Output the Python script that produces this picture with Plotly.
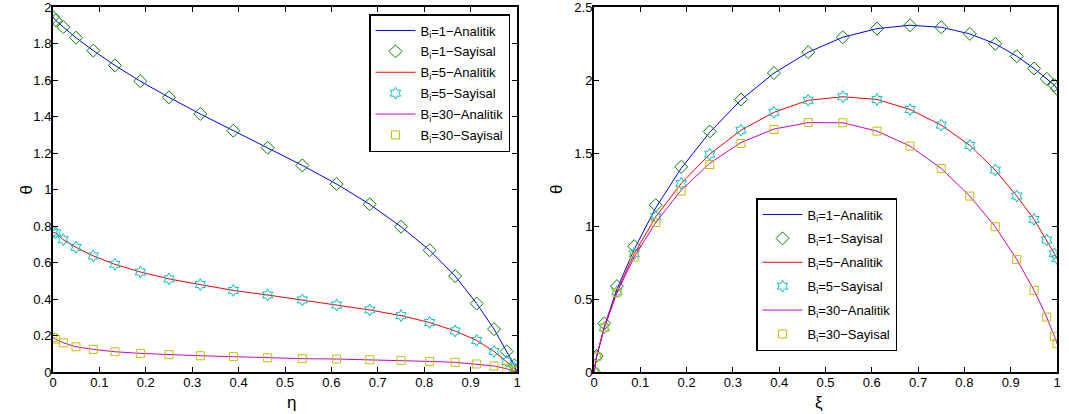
import plotly.graph_objects as go

# Collocation points (shared by both panels)
X = [0, 0.0056, 0.0222, 0.0495, 0.0869, 0.1334, 0.1883, 0.25, 0.3174, 0.3887, 0.4626,
     0.5374, 0.6113, 0.6826, 0.75, 0.8117, 0.8666, 0.9131, 0.9505, 0.9778, 0.9944, 1]

# Left panel: theta vs eta
L_bi1_ana = [1.945, 1.927, 1.89, 1.832, 1.761, 1.68, 1.593, 1.505, 1.414, 1.322, 1.229,
             1.132, 1.03, 0.919, 0.796, 0.667, 0.526, 0.375, 0.235, 0.113, 0.036, 0.0]
L_bi1_num = [1.945, 1.927, 1.89, 1.832, 1.761, 1.68, 1.593, 1.505, 1.414, 1.322, 1.229,
             1.132, 1.03, 0.919, 0.796, 0.667, 0.526, 0.375, 0.235, 0.113, 0.036, 0.01]
L_bi5_ana = [0.767, 0.762, 0.725, 0.683, 0.636, 0.59, 0.548, 0.51, 0.479, 0.447, 0.422,
             0.395, 0.367, 0.34, 0.309, 0.271, 0.225, 0.173, 0.113, 0.058, 0.02, 0.0]
L_bi5_num = [0.767, 0.762, 0.725, 0.683, 0.636, 0.59, 0.548, 0.51, 0.479, 0.447, 0.422,
             0.395, 0.367, 0.34, 0.309, 0.271, 0.225, 0.173, 0.113, 0.058, 0.02, 0.01]
L_bi30_ana = [0.189, 0.18, 0.16, 0.138, 0.124, 0.111, 0.102, 0.095, 0.089, 0.084, 0.078,
              0.073, 0.071, 0.067, 0.064, 0.058, 0.053, 0.044, 0.033, 0.018, 0.007, 0.0]
L_bi30_num = [0.189, 0.18, 0.16, 0.138, 0.124, 0.111, 0.102, 0.095, 0.089, 0.084, 0.078,
              0.073, 0.071, 0.067, 0.064, 0.058, 0.053, 0.044, 0.033, 0.018, 0.007, 0.005]

# Right panel: theta vs xi
R_bi1_ana = [0, 0.105, 0.31, 0.568, 0.84, 1.125, 1.395, 1.642, 1.864, 2.047, 2.19,
             2.293, 2.352, 2.375, 2.361, 2.316, 2.248, 2.163, 2.079, 2.008, 1.964, 1.94]
R_bi1_num = [0, 0.11, 0.333, 0.588, 0.862, 1.143, 1.405, 1.647, 1.866, 2.048, 2.19,
             2.293, 2.352, 2.375, 2.361, 2.316, 2.248, 2.163, 2.079, 2.008, 1.964, 1.94]
R_bi5_ana = [0, 0.105, 0.303, 0.55, 0.81, 1.063, 1.291, 1.492, 1.656, 1.779, 1.861,
             1.885, 1.867, 1.798, 1.691, 1.552, 1.383, 1.205, 1.045, 0.904, 0.81, 0.776]
R_bi5_num = [0, 0.105, 0.303, 0.55, 0.81, 1.063, 1.291, 1.492, 1.656, 1.779, 1.861,
             1.885, 1.867, 1.798, 1.691, 1.552, 1.383, 1.205, 1.045, 0.904, 0.81, 0.776]
R_bi30_ana = [0, 0.105, 0.303, 0.543, 0.787, 1.024, 1.245, 1.43, 1.572, 1.664, 1.708,
              1.707, 1.65, 1.547, 1.394, 1.205, 0.995, 0.771, 0.559, 0.376, 0.244, 0.194]
R_bi30_num = [0, 0.105, 0.303, 0.543, 0.787, 1.024, 1.239, 1.421, 1.565, 1.661, 1.708,
              1.707, 1.65, 1.547, 1.394, 1.205, 0.995, 0.771, 0.559, 0.376, 0.244, 0.194]

NAMES = ["B<sub>i</sub>=1\u2212Analitik", "B<sub>i</sub>=1\u2212Sayisal",
         "B<sub>i</sub>=5\u2212Analitik", "B<sub>i</sub>=5\u2212Sayisal",
         "B<sub>i</sub>=30\u2212Analitik", "B<sub>i</sub>=30\u2212Sayisal"]

LINE_COLORS = ["#0000ff", "#ff0000", "#cc00cc"]
MARK_COLORS = ["#008000", "#00c0c0", "#c0c000"]
MARK_SYMBOLS = ["diamond-open", "hexagram-open", "square-open"]
MARK_SIZES = [10, 9, 8]

FONT = "Liberation Sans, Arial, sans-serif"

fig = go.Figure()


def add_panel(xa, ya, leg, ana_list, num_list):
    for k in range(3):
        fig.add_trace(go.Scatter(
            x=X, y=ana_list[k], mode="lines", name=NAMES[2 * k],
            line=dict(color=LINE_COLORS[k], width=1),
            xaxis=xa, yaxis=ya, legend=leg, legendgroup=leg + str(2 * k)))
        fig.add_trace(go.Scatter(
            x=X, y=num_list[k], mode="markers", name=NAMES[2 * k + 1],
            marker=dict(symbol=MARK_SYMBOLS[k], size=MARK_SIZES[k],
                        color=MARK_COLORS[k], line=dict(width=1, color=MARK_COLORS[k])),
            xaxis=xa, yaxis=ya, legend=leg, legendgroup=leg + str(2 * k + 1)))


add_panel("x", "y", "legend", [L_bi1_ana, L_bi5_ana, L_bi30_ana],
          [L_bi1_num, L_bi5_num, L_bi30_num])
add_panel("x2", "y2", "legend2", [R_bi1_ana, R_bi5_ana, R_bi30_ana],
          [R_bi1_num, R_bi5_num, R_bi30_num])

W, H = 1069, 414
ML, MR, MT, MB = 53, 12, 7, 42
PW = W - ML - MR
PH = H - MT - MB


def px_x(p):
    return (p - ML) / PW


def px_y(p):
    return (H - MB - p) / PH


axis_common = dict(showline=True, linecolor="black", linewidth=2, mirror="allticks",
                   ticks="inside", ticklen=5, tickcolor="black", tickwidth=1,
                   showgrid=False, zeroline=False,
                   tickfont=dict(family=FONT, size=13, color="black"),
                   ticklabeloverflow="allow", automargin=False)

xt = [i / 10 for i in range(11)]
fig.update_layout(
    width=W, height=H,
    margin=dict(l=ML, r=MR, t=MT, b=MB),
    paper_bgcolor="white", plot_bgcolor="white",
    font=dict(family=FONT, size=13, color="black"),
    xaxis=dict(domain=[0, px_x(517)], range=[0, 1], tickvals=xt, anchor="y",
               ticklabelstandoff=-3, **axis_common),
    yaxis=dict(domain=[0, 1], range=[0, 2], tickvals=[i / 5 for i in range(11)],
               anchor="x", ticklabelstandoff=-3, **axis_common),
    xaxis2=dict(domain=[px_x(594), 1], range=[0, 1], tickvals=xt, anchor="y2",
                ticklabelstandoff=-3, **axis_common),
    yaxis2=dict(domain=[0, 1], range=[0, 2.5], tickvals=[0, 0.5, 1, 1.5, 2, 2.5],
                anchor="x2", ticklabelstandoff=-3, **axis_common),
    legend=dict(x=px_x(369), y=px_y(14), xanchor="left", yanchor="top",
                bgcolor="white", bordercolor="black", borderwidth=1.5,
                font=dict(family=FONT, size=13, color="black"),
                itemwidth=40, traceorder="grouped", tracegroupgap=1),
    legend2=dict(x=px_x(756), y=px_y(198), xanchor="left", yanchor="top",
                 bgcolor="white", bordercolor="black", borderwidth=1.5,
                 font=dict(family=FONT, size=13, color="black"),
                 itemwidth=40, traceorder="grouped", tracegroupgap=4),
    showlegend=True,
)

ann_font = dict(family=FONT, size=17, color="black")
fig.add_annotation(text="\u03b8", x=px_x(14), y=px_y(190), xref="paper", yref="paper",
                   showarrow=False, textangle=-90, font=ann_font)
fig.add_annotation(text="\u03b7", x=px_x(285), y=px_y(414), xref="paper", yref="paper",
                   yanchor="bottom", showarrow=False, font=ann_font)
fig.add_annotation(text="\u03b8", x=px_x(556), y=px_y(190), xref="paper", yref="paper",
                   showarrow=False, textangle=-90, font=ann_font)
fig.add_annotation(text="\u03be", x=px_x(825), y=px_y(414), xref="paper", yref="paper",
                   yanchor="bottom", showarrow=False, font=ann_font)

fig.write_html("out.html")
